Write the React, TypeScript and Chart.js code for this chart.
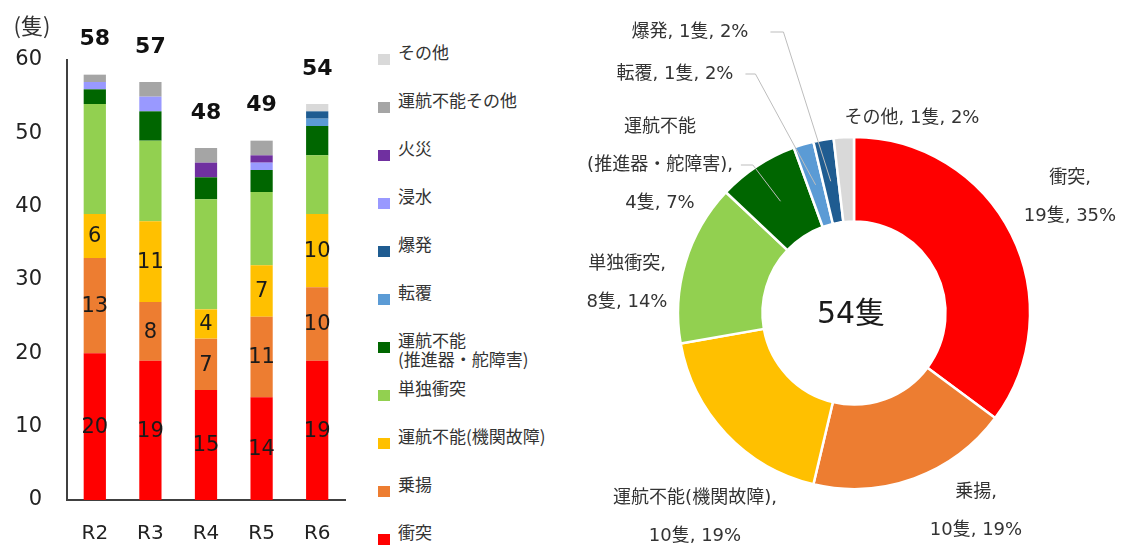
import React, { useEffect, useRef } from "react";
import { Chart, registerables } from "chart.js";

Chart.register(...registerables);

// ---------- data ----------
const years = ["R2", "R3", "R4", "R5", "R6"];
const yTickValues = [0, 10, 20, 30, 40, 50, 60];

const collision = [20, 19, 15, 14, 19]; // 衝突
const grounding = [13, 8, 7, 11, 10]; // 乗揚
const engineFailure = [6, 11, 4, 7, 10]; // 運航不能(機関故障)
const singleCollision = [15, 11, 15, 10, 8]; // 単独衝突
const propellerRudder = [2, 4, 3, 3, 4]; // 運航不能(推進器・舵障害)
const capsize = [0, 0, 0, 0, 1]; // 転覆
const explosion = [0, 0, 0, 0, 1]; // 爆発
const flooding = [1, 2, 0, 1, 0]; // 浸水
const fire = [0, 0, 2, 1, 0]; // 火災
const disabledOther = [1, 2, 2, 2, 0]; // 運航不能その他
const other = [0, 0, 0, 0, 1]; // その他

const seriesNames = [
  "衝突",
  "乗揚",
  "運航不能(機関故障)",
  "単独衝突",
  "運航不能\n(推進器・舵障害)",
  "転覆",
  "爆発",
  "浸水",
  "火災",
  "運航不能その他",
  "その他",
];
const seriesValues = [
  collision,
  grounding,
  engineFailure,
  singleCollision,
  propellerRudder,
  capsize,
  explosion,
  flooding,
  fire,
  disabledOther,
  other,
];
const seriesColors = [
  "#FF0000",
  "#ED7D31",
  "#FFC000",
  "#92D050",
  "#006600",
  "#5B9BD5",
  "#1F5C91",
  "#9999FF",
  "#7030A0",
  "#A5A5A5",
  "#D9D9D9",
];

// R6 breakdown (doughnut)
const pieNames = [
  "衝突",
  "乗揚",
  "運航不能(機関故障)",
  "単独衝突",
  "運航不能\n(推進器・舵障害)",
  "転覆",
  "爆発",
  "その他",
];
const pieCounts = [19, 10, 10, 8, 4, 1, 1, 1];
const piePercents = [35, 19, 19, 14, 7, 2, 2, 2];
const pieColors = ["#FF0000", "#ED7D31", "#FFC000", "#92D050", "#006600", "#5B9BD5", "#1F5C91", "#D9D9D9"];

// ---------- layout for doughnut labels (offsets from doughnut centre) ----------
const pieWrap = [true, true, true, true, true, false, false, false];
const pieLabelOffsets: [number, number][] = [
  [216, -116],
  [122, 198],
  [-159, 204],
  [-227, -30],
  [-194, -148],
  [-179, -239],
  [-164, -281],
  [58, -195],
];
// leader lines: [line index, gap after text, horizontal run]
const pieLeaders: ([number, number, number] | null)[] = [
  null,
  null,
  null,
  null,
  [1, 8, 12],
  [0, 12, 10],
  [0, 22, 13],
  null,
];

const NUM_FONT = "'DejaVu Sans', 'Noto Sans CJK JP', sans-serif";
const CJK_FONT = "'Noto Sans CJK JP', 'DejaVu Sans', sans-serif";
const LINE_GAP = 38;

function pieLines(i: number): string[] {
  const nameLines = pieNames[i].split("\n");
  const rest = `${pieCounts[i]}隻, ${piePercents[i]}%`;
  if (pieWrap[i]) {
    const ls = [...nameLines];
    ls[ls.length - 1] = ls[ls.length - 1] + ",";
    return [...ls, rest];
  }
  return [`${pieNames[i]}, ${rest}`];
}

const barLabelPlugin = {
  id: "barLabels",
  afterDatasetsDraw(chart: any) {
    const ctx = chart.ctx as CanvasRenderingContext2D;
    ctx.save();
    ctx.textAlign = "center";
    ctx.textBaseline = "middle";
    ctx.fillStyle = "#1a1a1a";
    ctx.font = `21px ${NUM_FONT}`;
    [0, 1, 2].forEach((di) => {
      const meta = chart.getDatasetMeta(di);
      meta.data.forEach((el: any, i: number) => {
        const v = chart.data.datasets[di].data[i];
        if (!v) return;
        const p = el.getProps(["x", "y", "base"], true);
        ctx.fillText(String(v), p.x, (p.y + p.base) / 2 + 1);
      });
    });
    ctx.font = `bold 22px ${NUM_FONT}`;
    ctx.fillStyle = "#111";
    const yScale = chart.scales.y;
    const meta0 = chart.getDatasetMeta(0);
    years.forEach((_, i) => {
      const total = chart.data.datasets.reduce((s: number, d: any) => s + (d.data[i] || 0), 0);
      const x = meta0.data[i].x;
      ctx.fillText(String(total), x, yScale.getPixelForValue(total) - 35);
    });
    ctx.font = `22px ${CJK_FONT}`;
    ctx.fillStyle = "#333";
    ctx.fillText("(隻)", 32, 26);
    ctx.restore();
  },
};

const donutLabelPlugin = {
  id: "donutLabels",
  afterDraw(chart: any) {
    const ctx = chart.ctx as CanvasRenderingContext2D;
    const arcs = chart.getDatasetMeta(0).data;
    if (!arcs.length) return;
    const cx = arcs[0].x;
    const cy = arcs[0].y;
    ctx.save();
    ctx.textAlign = "center";
    ctx.textBaseline = "middle";
    ctx.fillStyle = "#1a1a1a";
    ctx.font = `30px ${NUM_FONT}`;
    const total = pieCounts.reduce((a, b) => a + b, 0);
    ctx.fillText(`${total}隻`, cx - 3, cy + 2);

    ctx.font = `18px ${NUM_FONT}`;
    arcs.forEach((arc: any, i: number) => {
      const lines = pieLines(i);
      const [dx, dy] = pieLabelOffsets[i];
      const n = lines.length;
      ctx.fillStyle = "#333";
      lines.forEach((t, k) => {
        ctx.fillText(t, cx + dx, cy + dy + (k - (n - 1) / 2) * LINE_GAP);
      });
      const lead = pieLeaders[i];
      if (lead) {
        const [li, gap, run] = lead;
        const p = arc.getProps(["startAngle", "endAngle", "innerRadius", "outerRadius"], true);
        const a = (p.startAngle + p.endAngle) / 2;
        const r = (p.innerRadius + p.outerRadius) / 2;
        const px = cx + r * Math.cos(a);
        const py = cy + r * Math.sin(a);
        const ly = cy + dy + (li - (n - 1) / 2) * LINE_GAP;
        const lx = cx + dx + ctx.measureText(lines[li]).width / 2 + gap;
        ctx.strokeStyle = "#BDBDBD";
        ctx.lineWidth = 1;
        ctx.beginPath();
        ctx.moveTo(lx, ly);
        ctx.lineTo(lx + run, ly);
        ctx.lineTo(px, py);
        ctx.stroke();
      }
    });
    ctx.restore();
  },
};

export default function App() {
  const barRef = useRef<HTMLCanvasElement>(null);
  const pieRef = useRef<HTMLCanvasElement>(null);

  useEffect(() => {
    const bar = new Chart(barRef.current!, {
      type: "bar",
      data: {
        labels: years,
        datasets: seriesNames.map((name, i) => ({
          label: name,
          data: seriesValues[i],
          backgroundColor: seriesColors[i],
          borderWidth: 0,
          barPercentage: 0.4,
          categoryPercentage: 1,
        })),
      },
      options: {
        animation: false,
        responsive: false,
        maintainAspectRatio: false,
        layout: { padding: { top: 60, right: 25, left: 0, bottom: 0 } },
        plugins: { legend: { display: false }, tooltip: { enabled: false } },
        scales: {
          x: {
            stacked: true,
            grid: { display: false, drawTicks: false },
            border: { display: true, color: "#404040", width: 2 },
            ticks: { font: { size: 20, family: NUM_FONT }, color: "#222", padding: 22 },
            afterFit: (s: any) => {
              s.height = 47;
            },
          },
          y: {
            stacked: true,
            min: 0,
            max: 60,
            afterBuildTicks: (s: any) => {
              s.ticks = yTickValues.map((v) => ({ value: v }));
            },
            grid: { display: false, drawTicks: false },
            border: { display: true, color: "#404040", width: 2 },
            ticks: { font: { size: 21, family: NUM_FONT }, color: "#222", padding: 25 },
            afterFit: (s: any) => {
              s.width = 67;
            },
          },
        },
      } as any,
      plugins: [barLabelPlugin],
    });

    const pie = new Chart(pieRef.current!, {
      type: "doughnut",
      data: {
        labels: pieNames,
        datasets: [
          {
            data: pieCounts,
            backgroundColor: pieColors,
            borderColor: "#ffffff",
            borderWidth: 2.5,
          },
        ],
      },
      options: {
        animation: false,
        responsive: false,
        maintainAspectRatio: false,
        radius: 176,
        cutout: "52%",
        layout: { padding: { left: 21, right: 0, top: 79, bottom: 0 } },
        plugins: { legend: { display: false }, tooltip: { enabled: false } },
      } as any,
      plugins: [donutLabelPlugin],
    });

    return () => {
      bar.destroy();
      pie.destroy();
    };
  }, []);

  const legendOrder = seriesNames.map((_, i) => seriesNames.length - 1 - i);

  return (
    <div
      style={{
        position: "absolute",
        left: 0,
        top: 0,
        width: 1127,
        height: 547,
        background: "#fff",
        overflow: "hidden",
      }}
    >
      <canvas
        ref={barRef}
        width={370}
        height={547}
        style={{ position: "absolute", left: 0, top: 0, width: 370, height: 547 }}
      />
      <canvas
        ref={pieRef}
        width={567}
        height={547}
        style={{ position: "absolute", left: 560, top: 0, width: 567, height: 547 }}
      />
      {legendOrder.map((si, k) => (
        <div
          key={si}
          style={{
            position: "absolute",
            left: 378,
            top: 52 + 48 * k - 10,
            fontFamily: CJK_FONT,
            fontSize: 17,
            lineHeight: "19px",
            color: "#333",
            whiteSpace: "pre",
          }}
        >
          <div
            style={{
              position: "absolute",
              left: 0,
              top: 12,
              width: 12,
              height: 11,
              background: seriesColors[si],
            }}
          />
          <div style={{ marginLeft: 20 }}>{seriesNames[si]}</div>
        </div>
      ))}
    </div>
  );
}
